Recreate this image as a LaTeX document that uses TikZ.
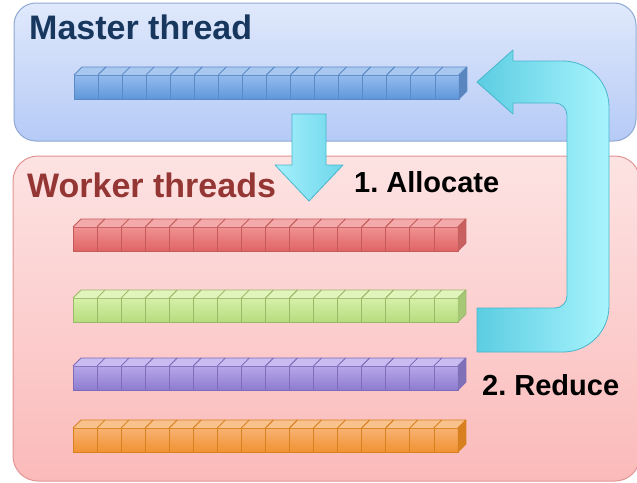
\documentclass[tikz,border=0pt]{standalone}
\usepackage{fontspec}
\newfontfamily\arialf{Liberation Sans}
\usetikzlibrary{calc}
\frenchspacing
\definecolor{mtxt}{HTML}{17375E}
\definecolor{wtxt}{HTML}{943634}
\definecolor{mtop}{HTML}{E0E9FC}
\definecolor{mbot}{HTML}{B5CAF6}
\definecolor{mline}{HTML}{8FA8D4}
\definecolor{wtop}{HTML}{FDE3E3}
\definecolor{wbot}{HTML}{FBBABA}
\definecolor{wline}{HTML}{E29494}
\definecolor{arrdark}{HTML}{5CCDE2}
\definecolor{arrlight}{HTML}{A8F4FD}
\definecolor{arrline}{HTML}{48B6CC}
\definecolor{dnlight}{HTML}{A6F0FC}
\definecolor{dndark}{HTML}{6CD6EA}
% cube colours: top face, front top, front bottom, side, edge
\definecolor{bTop}{HTML}{A9C8F0}\definecolor{bFt}{HTML}{95BBEE}\definecolor{bFb}{HTML}{5E97DA}\definecolor{bSd}{HTML}{5A86C0}\definecolor{bEd}{HTML}{5B89C6}
\definecolor{rTop}{HTML}{F4AAAA}\definecolor{rFt}{HTML}{F09292}\definecolor{rFb}{HTML}{E06464}\definecolor{rSd}{HTML}{C86060}\definecolor{rEd}{HTML}{C45A5A}
\definecolor{gTop}{HTML}{E0F4BC}\definecolor{gFt}{HTML}{D6F0A8}\definecolor{gFb}{HTML}{B6DC7E}\definecolor{gSd}{HTML}{A6C876}\definecolor{gEd}{HTML}{9AB868}
\definecolor{pTop}{HTML}{C8BCF0}\definecolor{pFt}{HTML}{B6A6E8}\definecolor{pFb}{HTML}{8E7CD0}\definecolor{pSd}{HTML}{8070B8}\definecolor{pEd}{HTML}{7E6CB8}
\definecolor{oTop}{HTML}{F9C28C}\definecolor{oFt}{HTML}{F8B272}\definecolor{oFb}{HTML}{F09232}\definecolor{oSd}{HTML}{D88020}\definecolor{oEd}{HTML}{D8801C}
\tikzset{
  lbl/.style={inner sep=0pt, anchor=base west, font=\arialf\bfseries\fontsize{34}{40}\selectfont},
  slbl/.style={inner sep=0pt, anchor=base west, font=\arialf\bfseries\fontsize{29}{34}\selectfont, text=black},
  cubeedge/.style={line width=0.8pt, line join=round},
}
% \cubebar{x0}{yfronttop}{ybottom}{prefix}
\newcommand\cubebar[4]{%
  \foreach \i in {0,...,15}{%
    \pgfmathsetmacro\xa{#1+\i*24.06}%
    \pgfmathsetmacro\xb{#1+(\i+1)*24.06}%
    \shade[top color=#4Ft, bottom color=#4Fb] (\xa,#2) rectangle (\xb,#3);
    \draw[#4Ed, cubeedge] (\xa,#2) rectangle (\xb,#3);
    \fill[#4Top] (\xa,#2) -- (\xa+8,#2-8) -- (\xb+8,#2-8) -- (\xb,#2) -- cycle;
    \draw[#4Ed, cubeedge] (\xa,#2) -- (\xa+8,#2-8) -- (\xb+8,#2-8) -- (\xb,#2);
  }%
  \pgfmathsetmacro\xe{#1+16*24.06}%
  \fill[#4Sd] (\xe,#2) -- (\xe+8,#2-8) -- (\xe+8,#3-8) -- (\xe,#3) -- cycle;
  \draw[#4Ed, cubeedge] (\xe,#2) -- (\xe+8,#2-8) -- (\xe+8,#3-8) -- (\xe,#3);
}
\begin{document}
\begin{tikzpicture}[x=1pt, y=-1pt]
\useasboundingbox (0,0) rectangle (637,482);
\begin{scope}
\clip (0,0) rectangle (637,482);
% master box
\shade[top color=mtop, bottom color=mbot, rounded corners=22pt] (14,3) rectangle (636,141);
\draw[mline, line width=1pt, rounded corners=22pt] (14,3) rectangle (636,141);
% worker box
\shade[top color=wtop, bottom color=wbot, rounded corners=25pt] (13,156) rectangle (640,481);
\draw[wline, line width=1pt, rounded corners=25pt] (13,156) rectangle (640,481);
\end{scope}
% bars
\cubebar{74}{75}{99}{b}
\cubebar{73}{227}{251}{r}
\cubebar{73}{298}{322}{g}
\cubebar{73}{366}{390}{p}
\cubebar{73}{428}{452}{o}
% labels
\node[lbl, text=mtxt] (mt) at (29,39) {Master thread};
\node[lbl, text=wtxt] (wt) at (27,197) {Worker threads};
\node[slbl] (al) at (354,192) {1. Allocate};
\node[slbl] (rd) at (482,395) {2. Reduce};
% allocate arrow
\shade[left color=dnlight, right color=dndark]
  (292,114) -- (326,114) -- (326,165) -- (343,165) -- (309,201) -- (275,165) -- (292,165) -- cycle;
\draw[arrline, line width=0.8pt, line join=round]
  (292,114) -- (326,114) -- (326,165) -- (343,165) -- (309,201) -- (275,165) -- (292,165) -- cycle;
% reduce arrow
\def\uarrow{(477,82) -- (513,50) -- (513,61) -- (563,61)
  .. controls (588.4,61) and (609,81.6) .. (609,107) -- (609,306)
  .. controls (609,331.4) and (588.4,352) .. (563,352) -- (477,352) -- (477,308) -- (555,308)
  .. controls (561.6,308) and (567,302.6) .. (567,296) -- (567,115)
  .. controls (567,108.4) and (561.6,103) .. (555,103) -- (513,103) -- (513,114) -- cycle}
\shade[left color=arrdark, right color=arrlight] \uarrow;
\draw[arrline, line width=0.8pt, line join=round] \uarrow;
\end{tikzpicture}
\end{document}
